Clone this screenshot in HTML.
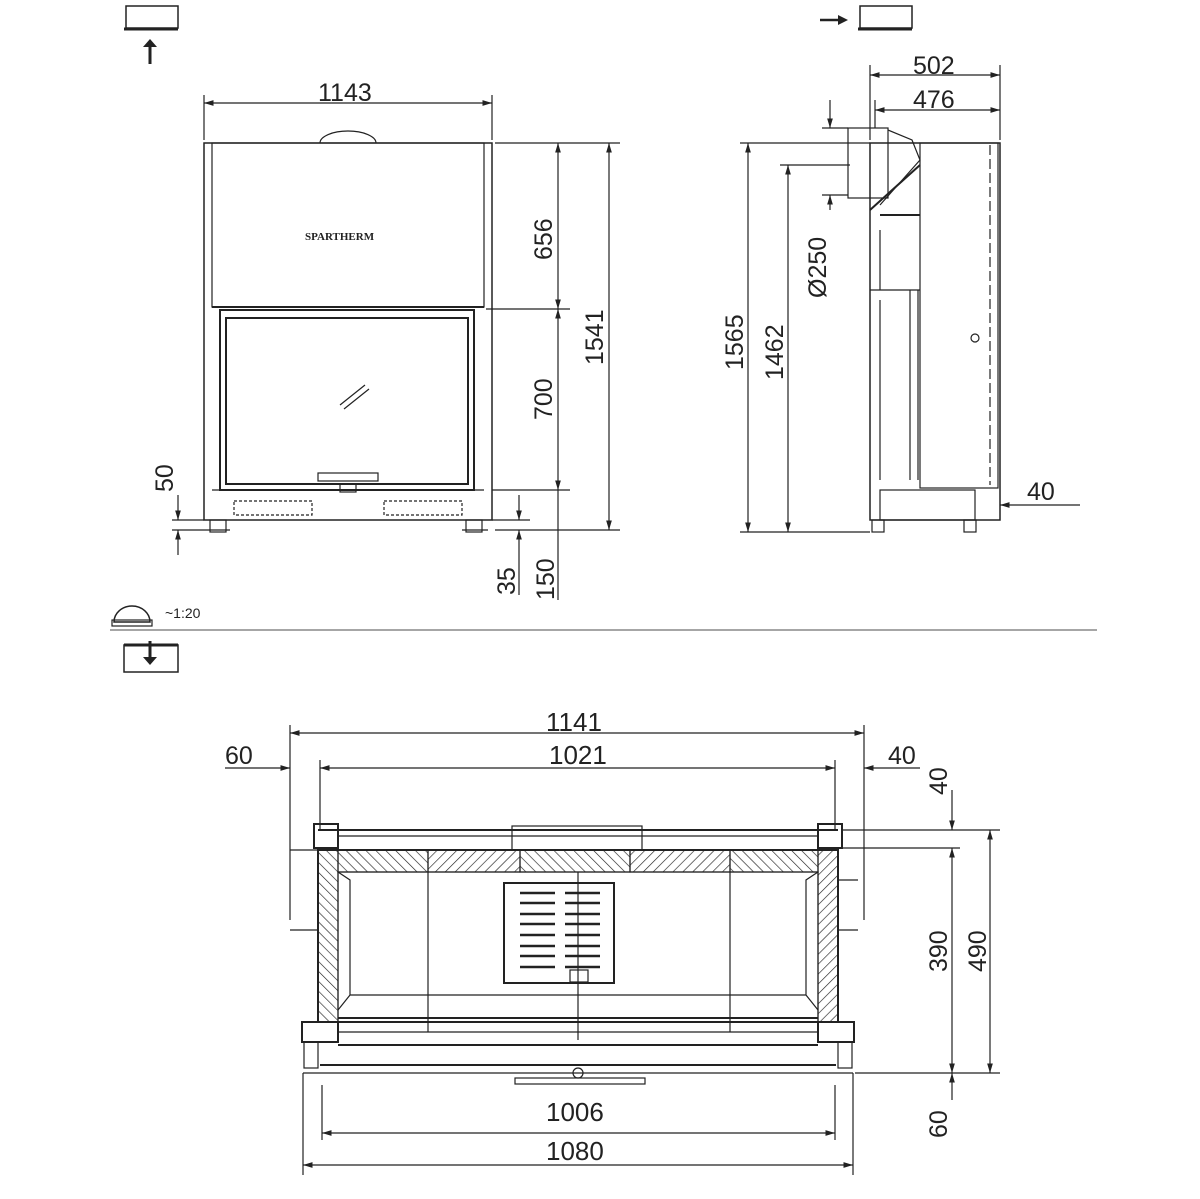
<!DOCTYPE html>
<html><head><style>body{margin:0;background:#fff}svg{display:block}text{font-family:"Liberation Sans",sans-serif;font-size:25px;fill:#222}</style></head><body>
<svg width="1200" height="1199" viewBox="0 0 1200 1199" xmlns="http://www.w3.org/2000/svg">
<defs>
<pattern id="h1" width="7" height="7" patternUnits="userSpaceOnUse" patternTransform="rotate(45)"><line x1="0" y1="0" x2="0" y2="7" stroke="#222" stroke-width="1.3"/></pattern>
<pattern id="h2" width="7" height="7" patternUnits="userSpaceOnUse" patternTransform="rotate(-45)"><line x1="0" y1="0" x2="0" y2="7" stroke="#222" stroke-width="1.3"/></pattern>
<marker id="a" viewBox="0 0 10 10" refX="10" refY="5" markerWidth="8" markerHeight="8" orient="auto-start-reverse"><path d="M0,2L10,5L0,8z" fill="#222"/></marker>
</defs>
<g fill="none" stroke="#222" stroke-width="1.2">
<!-- icons -->
<rect x="126" y="6" width="52" height="22" stroke-width="1.5"/><line x1="124" y1="29" x2="178" y2="29" stroke-width="3"/>
<line x1="150" y1="64" x2="150" y2="46" stroke-width="3"/><path d="M143 47 L150 39 L157 47 Z" fill="#222" stroke="none"/>
<rect x="860" y="6" width="52" height="22" stroke-width="1.5"/><line x1="858" y1="29" x2="912" y2="29" stroke-width="3"/>
<line x1="820" y1="20" x2="840" y2="20" stroke-width="2.5"/><path d="M838 15 L848 20 L838 25 Z" fill="#222" stroke="none"/>
<rect x="124" y="645" width="54" height="27" stroke-width="1.5"/><line x1="124" y1="645" x2="178" y2="645" stroke-width="3"/>
<line x1="150" y1="641" x2="150" y2="658" stroke-width="3"/><path d="M143 657 L150 665 L157 657 Z" fill="#222" stroke="none"/>
<path d="M114 622 A18 16 0 0 1 150 622 Z" stroke-width="1.5"/><rect x="112" y="620" width="40" height="6"/>
<line x1="110" y1="630" x2="1097" y2="630" stroke="#888" stroke-width="1.5"/>

<!-- front view -->
<rect x="204" y="143" width="288" height="377" stroke-width="1.5"/>
<rect x="212" y="143" width="272" height="164"/>
<line x1="212" y1="307" x2="484" y2="307" stroke-width="2"/>
<rect x="220" y="310" width="254" height="180" stroke-width="2"/>
<rect x="226" y="318" width="242" height="166" stroke-width="2"/>
<line x1="212" y1="490" x2="484" y2="490"/>
<rect x="234" y="501" width="78" height="14" stroke-dasharray="3,2"/>
<rect x="384" y="501" width="78" height="14" stroke-dasharray="3,2"/>
<rect x="318" y="473" width="60" height="8"/><rect x="340" y="484" width="16" height="8"/>
<path d="M320 143 A28 12 0 0 1 376 143"/>
<line x1="340" y1="405" x2="365" y2="385"/><line x1="344" y1="409" x2="369" y2="389"/>
<rect x="210" y="520" width="16" height="12"/><rect x="466" y="520" width="16" height="12"/>
<line x1="204" y1="530" x2="230" y2="530"/><line x1="462" y1="530" x2="488" y2="530"/>
<!-- front dims -->
<line x1="204" y1="95" x2="204" y2="140"/><line x1="492" y1="95" x2="492" y2="140"/>
<line x1="204" y1="103" x2="492" y2="103" marker-start="url(#a)" marker-end="url(#a)"/>
<line x1="495" y1="143" x2="620" y2="143"/><line x1="486" y1="309" x2="570" y2="309"/><line x1="492" y1="490" x2="570" y2="490"/>
<line x1="495" y1="530" x2="620" y2="530"/><line x1="492" y1="520" x2="530" y2="520"/>
<line x1="558" y1="143" x2="558" y2="309" marker-start="url(#a)" marker-end="url(#a)"/>
<line x1="558" y1="309" x2="558" y2="490" marker-start="url(#a)" marker-end="url(#a)"/>
<line x1="609" y1="143" x2="609" y2="530" marker-start="url(#a)" marker-end="url(#a)"/>
<line x1="558" y1="490" x2="558" y2="600"/><line x1="519" y1="495" x2="519" y2="520" marker-end="url(#a)"/><line x1="519" y1="595" x2="519" y2="530" marker-end="url(#a)"/>
<line x1="172" y1="520" x2="204" y2="520"/><line x1="172" y1="530" x2="204" y2="530"/>
<line x1="178" y1="495" x2="178" y2="520" marker-end="url(#a)"/><line x1="178" y1="555" x2="178" y2="530" marker-end="url(#a)"/>

<!-- side view -->
<rect x="870" y="143" width="130" height="377" stroke-width="1.5"/>
<rect x="920" y="143" width="78" height="345"/>
<line x1="880" y1="215" x2="920" y2="215" stroke-width="2"/>
<rect x="848" y="128" width="40" height="70"/>
<path d="M888 130 L912 140 L920 160 L880 205"/><line x1="870" y1="210" x2="920" y2="165" stroke-width="2"/>
<line x1="880" y1="230" x2="880" y2="290"/><line x1="870" y1="290" x2="920" y2="290"/>
<line x1="910" y1="290" x2="910" y2="480"/><line x1="918" y1="290" x2="918" y2="480"/>
<line x1="880" y1="300" x2="880" y2="480"/>
<rect x="880" y="490" width="95" height="30"/>
<rect x="872" y="520" width="12" height="12"/><rect x="964" y="520" width="12" height="12"/>
<circle cx="975" cy="338" r="4"/><line x1="990" y1="145" x2="990" y2="485" stroke-dasharray="10,4"/>
<!-- side dims -->
<line x1="870" y1="65" x2="870" y2="140"/><line x1="1000" y1="65" x2="1000" y2="140"/><line x1="875" y1="100" x2="875" y2="128"/>
<line x1="870" y1="75" x2="1000" y2="75" marker-start="url(#a)" marker-end="url(#a)"/>
<line x1="875" y1="110" x2="1000" y2="110" marker-start="url(#a)" marker-end="url(#a)"/>
<line x1="740" y1="143" x2="870" y2="143"/><line x1="780" y1="165" x2="850" y2="165"/><line x1="740" y1="532" x2="870" y2="532"/>
<line x1="822" y1="128" x2="848" y2="128"/><line x1="822" y1="195" x2="848" y2="195"/>
<line x1="748" y1="143" x2="748" y2="532" marker-start="url(#a)" marker-end="url(#a)"/>
<line x1="788" y1="165" x2="788" y2="532" marker-start="url(#a)" marker-end="url(#a)"/>
<line x1="830" y1="100" x2="830" y2="128" marker-end="url(#a)"/><line x1="830" y1="210" x2="830" y2="195" marker-end="url(#a)"/>
<line x1="1000" y1="505" x2="1080" y2="505" marker-start="url(#a)"/>

<!-- plan view -->
<rect x="318" y="850" width="20" height="172" fill="url(#h2)"/>
<rect x="818" y="850" width="20" height="172" fill="url(#h1)"/>
<rect x="338" y="850" width="90" height="22" fill="url(#h2)"/>
<rect x="428" y="850" width="92" height="22" fill="url(#h1)"/>
<rect x="520" y="850" width="110" height="22" fill="url(#h2)"/>
<rect x="630" y="850" width="100" height="22" fill="url(#h1)"/>
<rect x="730" y="850" width="88" height="22" fill="url(#h2)"/>
<rect x="318" y="850" width="520" height="172" stroke-width="2"/>
<rect x="338" y="872" width="480" height="150"/>
<path d="M338 872 L350 880 L350 995 L338 1010 M818 872 L806 880 L806 995 L818 1010 M350 995 L806 995"/>
<line x1="428" y1="872" x2="428" y2="1032"/><line x1="730" y1="872" x2="730" y2="1032"/><line x1="578" y1="872" x2="578" y2="1040"/>
<rect x="504" y="883" width="110" height="100" stroke-width="2"/>
<g stroke-width="2.5"><line x1="520" y1="893" x2="555" y2="893"/><line x1="565" y1="893" x2="600" y2="893"/><line x1="520" y1="903" x2="555" y2="903"/><line x1="565" y1="903" x2="600" y2="903"/><line x1="520" y1="914" x2="555" y2="914"/><line x1="565" y1="914" x2="600" y2="914"/><line x1="520" y1="924" x2="555" y2="924"/><line x1="565" y1="924" x2="600" y2="924"/><line x1="520" y1="935" x2="555" y2="935"/><line x1="565" y1="935" x2="600" y2="935"/><line x1="520" y1="946" x2="555" y2="946"/><line x1="565" y1="946" x2="600" y2="946"/><line x1="520" y1="956" x2="555" y2="956"/><line x1="565" y1="956" x2="600" y2="956"/><line x1="520" y1="967" x2="555" y2="967"/><line x1="565" y1="967" x2="600" y2="967"/></g>
<rect x="570" y="970" width="18" height="12"/>
<line x1="318" y1="830" x2="838" y2="830" stroke-width="2"/><line x1="338" y1="836" x2="818" y2="836"/>
<rect x="512" y="826" width="130" height="24"/>
<rect x="314" y="824" width="24" height="24" stroke-width="2"/><rect x="818" y="824" width="24" height="24" stroke-width="2"/>
<rect x="302" y="1022" width="36" height="20" stroke-width="2"/><rect x="818" y="1022" width="36" height="20" stroke-width="2"/>
<line x1="338" y1="1018" x2="818" y2="1018" stroke-width="2"/><line x1="338" y1="1032" x2="818" y2="1032"/>
<line x1="338" y1="1045" x2="818" y2="1045" stroke-width="2"/><line x1="320" y1="1065" x2="836" y2="1065" stroke-width="2"/>
<line x1="303" y1="1073" x2="853" y2="1073"/>
<rect x="304" y="1042" width="14" height="26"/><rect x="838" y="1042" width="14" height="26"/>
<rect x="515" y="1078" width="130" height="6"/><circle cx="578" cy="1073" r="5"/>
<line x1="290" y1="850" x2="318" y2="850"/><line x1="290" y1="930" x2="318" y2="930"/><line x1="838" y1="880" x2="858" y2="880"/><line x1="838" y1="930" x2="858" y2="930"/>
<!-- plan dims -->
<line x1="290" y1="725" x2="290" y2="920"/><line x1="864" y1="725" x2="864" y2="920"/>
<line x1="320" y1="760" x2="320" y2="830"/><line x1="835" y1="760" x2="835" y2="830"/>
<line x1="290" y1="733" x2="864" y2="733" marker-start="url(#a)" marker-end="url(#a)"/>
<line x1="320" y1="768" x2="835" y2="768" marker-start="url(#a)" marker-end="url(#a)"/>
<line x1="225" y1="768" x2="290" y2="768" marker-end="url(#a)"/><line x1="920" y1="768" x2="864" y2="768" marker-end="url(#a)"/>
<line x1="842" y1="830" x2="1000" y2="830"/><line x1="842" y1="848" x2="960" y2="848"/><line x1="855" y1="1073" x2="1000" y2="1073"/>
<line x1="952" y1="790" x2="952" y2="830" marker-end="url(#a)"/>
<line x1="952" y1="848" x2="952" y2="1073" marker-start="url(#a)" marker-end="url(#a)"/>
<line x1="990" y1="830" x2="990" y2="1073" marker-start="url(#a)" marker-end="url(#a)"/>
<line x1="952" y1="1100" x2="952" y2="1073" marker-end="url(#a)"/>
<line x1="303" y1="1073" x2="303" y2="1175"/><line x1="853" y1="1073" x2="853" y2="1175"/>
<line x1="322" y1="1085" x2="322" y2="1140"/><line x1="835" y1="1085" x2="835" y2="1140"/>
<line x1="322" y1="1133" x2="835" y2="1133" marker-start="url(#a)" marker-end="url(#a)"/>
<line x1="303" y1="1165" x2="853" y2="1165" marker-start="url(#a)" marker-end="url(#a)"/>
</g>
<text x="318" y="101">1143</text>
<text x="913" y="74">502</text><text x="913" y="108">476</text>
<text x="165" y="618" style="font-size:14px">~1:20</text>
<text x="1027" y="500">40</text>
<text x="546" y="731" style="font-size:26px">1141</text>
<text x="549" y="764" style="font-size:26px">1021</text>
<text x="225" y="764">60</text><text x="888" y="764">40</text>
<text x="546" y="1121" style="font-size:26px">1006</text>
<text x="546" y="1160" style="font-size:26px">1080</text>
<g>
<text transform="translate(552,260) rotate(-90)">656</text>
<text transform="translate(552,420) rotate(-90)">700</text>
<text transform="translate(603,365) rotate(-90)">1541</text>
<text transform="translate(173,492) rotate(-90)">50</text>
<text transform="translate(515,595) rotate(-90)">35</text>
<text transform="translate(554,600) rotate(-90)">150</text>
<text transform="translate(743,370) rotate(-90)">1565</text>
<text transform="translate(783,380) rotate(-90)">1462</text>
<text transform="translate(826,298) rotate(-90)">Ø250</text>
<text transform="translate(947,795) rotate(-90)">40</text>
<text transform="translate(947,972) rotate(-90)">390</text>
<text transform="translate(986,972) rotate(-90)">490</text>
<text transform="translate(947,1138) rotate(-90)">60</text>
</g>
<text x="305" y="240" style="font-size:11px;font-weight:bold;font-family:'Liberation Serif',serif">SPARTHERM</text>
</svg>
</body></html>
